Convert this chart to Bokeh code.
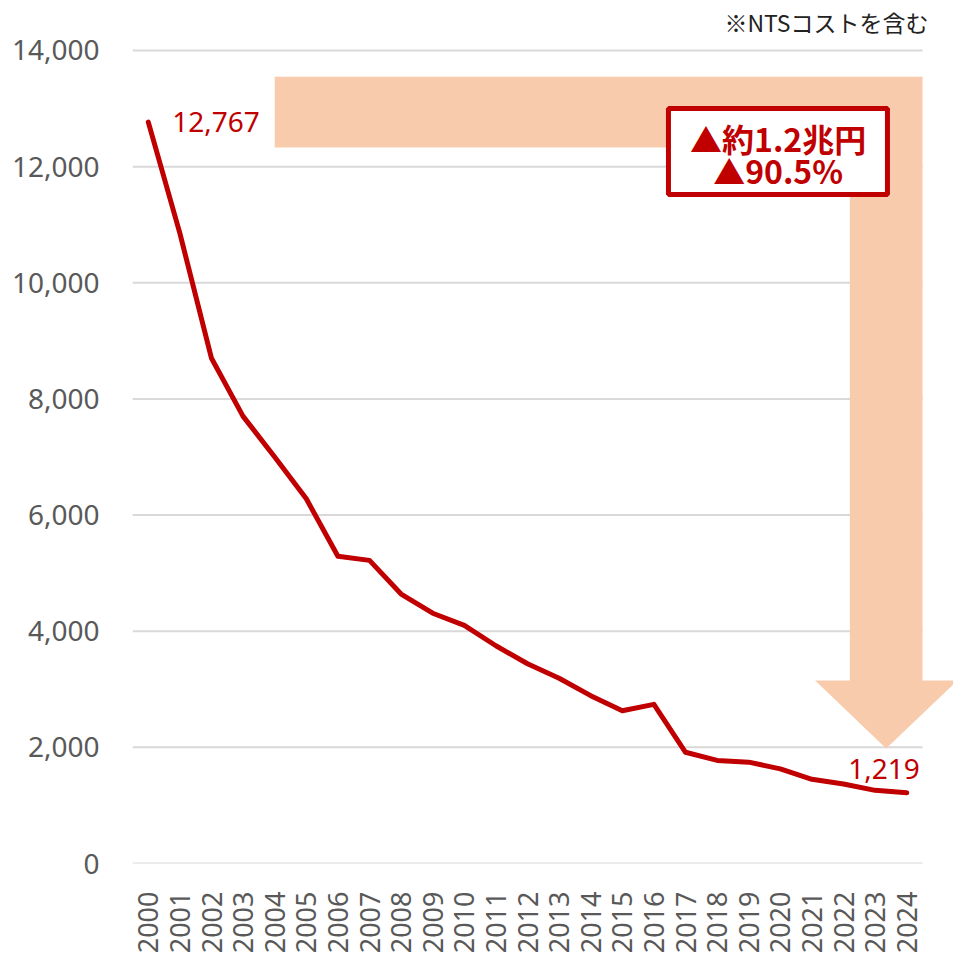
import math
from bokeh.plotting import figure
from bokeh.models import Range1d, FixedTicker, NumeralTickFormatter
from bokeh.core.properties import value
from bokeh.embed import file_html
from bokeh.resources import INLINE

# ---- data ----
years = list(range(2000, 2025))
costs = [12767, 10850, 8700, 7700, 7000, 6280, 5290, 5220, 4640, 4310,
         4100, 3750, 3440, 3190, 2890, 2630, 2740, 1915, 1775, 1745,
         1630, 1450, 1370, 1260, 1219]
y_ticks = [0, 2000, 4000, 6000, 8000, 10000, 12000, 14000]
first_label = "12,767"
last_label = "1,219"
box_line1 = "▲約1.2兆円"
box_line2 = "▲90.5%"
note = "※NTSコストを含む"

# arrow outline (data units)
arrow_x = [2004.0, 2024.5, 2024.5, 2025.6, 2023.35, 2021.1, 2022.2, 2022.2, 2004.0]
arrow_y = [13550, 13550, 3150, 3150, 1980, 3150, 3150, 12330, 12330]

RED = "#C00000"
PEACH = "#F8CBAD"
GRAY = "#595959"

p = figure(frame_width=821, frame_height=863,
           x_range=Range1d(1999.5, 2025.48), y_range=Range1d(0, 14861),
           output_backend="svg", toolbar_location=None,
           min_border_left=132, min_border_right=0, min_border_top=0, min_border_bottom=0)
p.outline_line_color = None
p.xgrid.visible = False
p.ygrid.visible = False
p.background_fill_color = "white"
p.border_fill_color = "white"

# gridlines spanning category extent
p.segment(x0=[years[0] - 0.5] * len(y_ticks), x1=[years[-1] + 0.5] * len(y_ticks),
          y0=y_ticks, y1=y_ticks, line_color="#D9D9D9", line_width=2)

# arrow
p.patch(arrow_x, arrow_y, fill_color=PEACH, line_color=None)

# line
p.line(years, costs, line_color=RED, line_width=5, line_cap="round", line_join="round")

# end labels
p.text(x=[years[0]], y=[costs[0]], text=[first_label], x_offset=24, y_offset=0,
       text_align="left", text_baseline="middle", text_color=RED,
       text_font=value("Noto Sans"), text_font_size="28px")
p.text(x=[years[-1]], y=[costs[-1]], text=[last_label], x_offset=13, y_offset=-24,
       text_align="right", text_baseline="middle", text_color=RED,
       text_font=value("Noto Sans"), text_font_size="28px")

# box
p.quad(left=[2016.46], right=[2023.39], top=[13000], bottom=[11520],
       fill_color="white", line_color=RED, line_width=5)
p.text(x=[2019.93, 2019.93], y=[12500, 11935], text=[box_line1, box_line2],
       text_align="center", text_baseline="middle", text_color=RED,
       text_font=value("Noto Sans CJK JP"), text_font_style="bold", text_font_size="32px")

# note
p.text(x=[2024.69], y=[14483], text=[note], text_align="right", text_baseline="middle",
       text_color="#222222", text_font=value("Noto Sans CJK JP"), text_font_size="23px")

# axes
p.xaxis.ticker = FixedTicker(ticks=years)
p.xaxis.major_label_orientation = math.pi / 2
p.xaxis.major_label_standoff = 22
p.xaxis.axis_line_color = None
p.xaxis.major_tick_line_color = None
p.xaxis.minor_tick_line_color = None
p.xaxis.major_label_text_font = "Noto Sans"
p.xaxis.major_label_text_font_size = "27px"
p.xaxis.major_label_text_color = GRAY

p.yaxis.ticker = FixedTicker(ticks=y_ticks)
p.yaxis.formatter = NumeralTickFormatter(format="0,0")
p.yaxis.major_label_standoff = 27
p.yaxis.axis_line_color = None
p.yaxis.major_tick_line_color = None
p.yaxis.minor_tick_line_color = None
p.yaxis.major_label_text_font = "Noto Sans"
p.yaxis.major_label_text_font_size = "28px"
p.yaxis.major_label_text_color = GRAY

open("out.html", "w").write(file_html(p, INLINE))
